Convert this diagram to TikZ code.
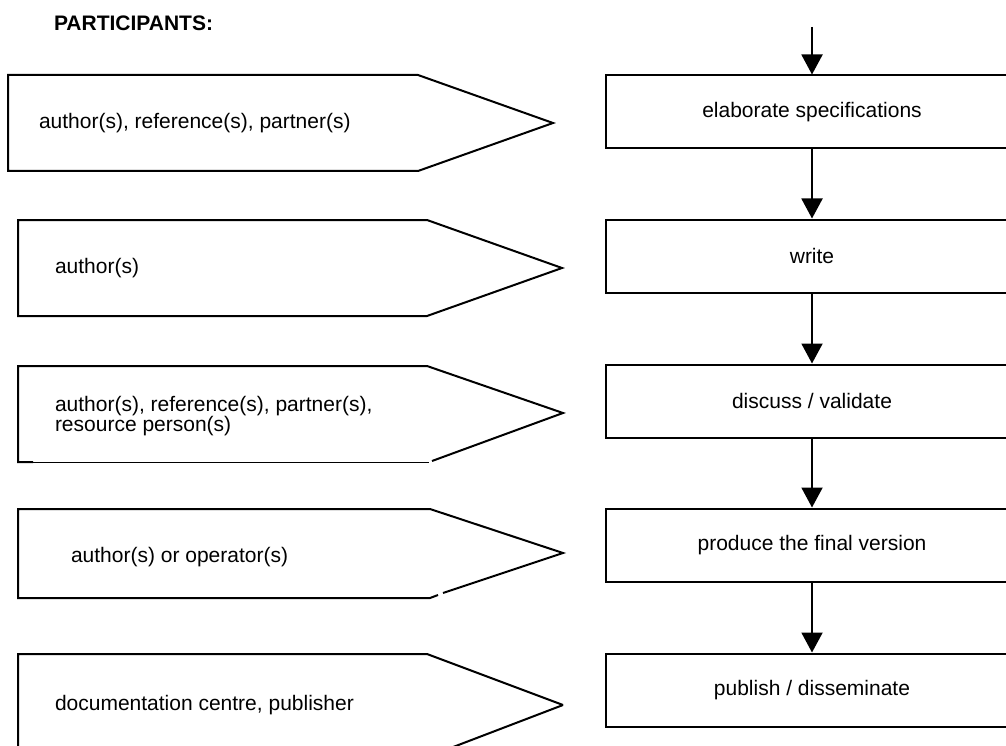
\documentclass[tikz,border=0pt]{standalone}
\usepackage{fontspec}
\setmainfont{Liberation Sans}
\usetikzlibrary{arrows.meta}
\begin{document}
\begin{tikzpicture}[x=1pt,y=-1pt,
  line width=2pt, line join=miter,
  stepbox/.style={draw, line width=2pt, minimum width=412pt, minimum height=73pt,
    inner sep=0pt, font=\fontsize{21}{25}\selectfont},
  who/.style={anchor=west, inner sep=0pt, align=left,
    font=\fontsize{21}{20}\selectfont},
  heading/.style={anchor=west, inner sep=0pt, font=\fontsize{21}{25}\selectfont\bfseries},
  flow/.style={-{Triangle[width=21pt,length=20pt]}, line width=2pt},
]
\useasboundingbox (0,0) rectangle (1006,746);
\clip (0,0) rectangle (1006,746);

% heading
\node[heading] (title) at (53,23) {PARTICIPANTS:};

% participant pennants
\draw (8,75) -- (418,75) -- (553,123) -- (418,171) -- (8,171) -- cycle;
\node[who] (p1) at (38,123) {author(s), reference(s), partner(s)};

\draw (18,220) -- (427,220) -- (562,268) -- (427,316) -- (18,316) -- cycle;
\node[who] (p2) at (54,268) {author(s)};

\draw (33,462) -- (18,462) -- (18,366) -- (427,366) -- (563,413) -- (432,461);
\draw[line width=1pt] (33,462) -- (429,462);
\node[who] (p3) at (54,416) {author(s), reference(s), partner(s),\\resource person(s)};

\draw (443,593) -- (563,553) -- (430,509) -- (18,509) -- (18,598) -- (430,598) -- (438,595);
\node[who] (p4) at (70,557) {author(s) or operator(s)};

\draw (563,705) -- (427,654) -- (18,654) -- (18,770);
\draw (563,705) -- (427,757);
\node[who] (p5) at (54,705) {documentation centre, publisher};

% process steps
\node[stepbox] (b1) at (812,112) {elaborate specifications};
\node[stepbox] (b2) at (812,256) {write};
\node[stepbox] (b3) at (812,401) {discuss / validate};
\node[stepbox] (b4) at (812,545) {produce the final version};
\node[stepbox] (b5) at (812,690) {publish / disseminate};

\coordinate (start) at (812,27);
\draw[flow] (start) -- (b1);
\draw[flow] (b1) -- (b2);
\draw[flow] (b2) -- (b3);
\draw[flow] (b3) -- (b4);
\draw[flow] (b4) -- (b5);
\end{tikzpicture}
\end{document}
